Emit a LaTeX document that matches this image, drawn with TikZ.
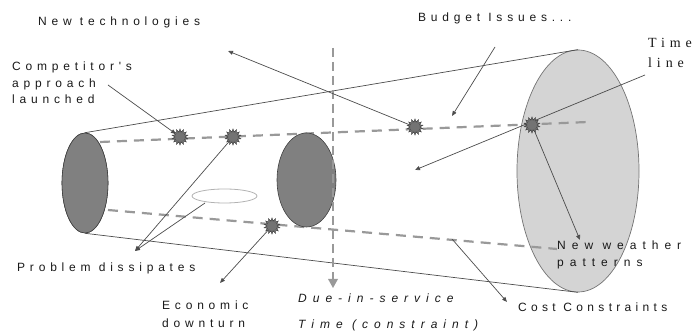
\documentclass[tikz,border=0pt]{standalone}
\usepackage{fontspec}
\setmainfont{Liberation Sans}
\newfontfamily\lsans[LetterSpace=40]{Liberation Sans}
\newfontfamily\lsansnarrow[LetterSpace=36]{Liberation Sans}
\newfontfamily\lsanswide[LetterSpace=50]{Liberation Sans}
\newfontfamily\lserif[LetterSpace=35]{Liberation Serif}
\usetikzlibrary{shapes.geometric,arrows.meta}
\begin{document}
\begin{tikzpicture}[x=1pt,y=-1pt,
  lbl/.style={anchor=base west, inner sep=0, align=left, text=black!90},
  ptr/.style={draw=black!70, line width=0.7pt, -{Triangle[length=5pt,width=4pt]}},
  plain/.style={draw=black!70, line width=0.7pt},
  tline/.style={draw=black!40, line width=2.2pt, dash pattern=on 10pt off 7pt},
  vline/.style={draw=black!40, line width=2.6pt, dash pattern=on 9pt off 5pt},
  burst/.style={star, star points=14, star point ratio=1.6, minimum size=16pt, inner sep=0, fill=black!55, draw=black!75, line width=0.5pt},
  dark/.style={ellipse, fill=black!50, draw=black!75, line width=0.6pt, inner sep=0},
  big/.style={ellipse, fill=black!17, draw=black!55, line width=0.7pt, inner sep=0},
  oval/.style={ellipse, draw=black!30, line width=0.8pt, inner sep=0}
]
\useasboundingbox (0,0) rectangle (697,336);
% right ellipse
\node[big, minimum width=122pt, minimum height=242pt] (re) at (578,171) {};
% cone outline
\node[dark, minimum width=46pt, minimum height=100pt] (le) at (85,183) {};
\draw[plain] (le.north) -- (re.north);
\draw[plain] (le.south) -- (re.south);
% time lines
\coordinate (ta) at (100,142);
\coordinate (tb) at (588,122);
\coordinate (ba) at (108,210);
\coordinate (bb) at (557,249);
\draw[tline] (ta) -- (tb);
\draw[tline] (ba) -- (bb);
% ellipses
\node[dark, minimum width=46pt, minimum height=100pt] (le2) at (85,183) {};
\node[dark, minimum width=59pt, minimum height=94pt] (me) at (306.5,180) {};
\node[oval, minimum width=65pt, minimum height=14pt] (ov) at (224.5,196) {};
% vertical due-in-service line
\coordinate (vtop) at (333,48);
\coordinate (vend) at (333,279);
\coordinate (vtip) at (333,288);
\draw[vline] (vtop) -- (vend);
\fill[black!40] (328,279) -- (338,279) -- (vtip) -- cycle;
% labels (multi-line nodes: position = baseline of last line)
\node[lbl, font=\lsans\fontsize{12}{14}\selectfont] (nt) at (38,26) {New technologies};
\node[lbl, font=\lsans\fontsize{12}{14}\selectfont] (bi) at (418,22) {Budget Issues...};
\node[lbl, font=\lserif\fontsize{14}{20}\selectfont] (tlab) at (648,68) {Time\\line};
\node[lbl, font=\lsans\fontsize{12}{16.5}\selectfont] (comp) at (12,104) {Competitor's\\approach\\launched};
\node[lbl, font=\lsans\fontsize{12}{14}\selectfont] (pd) at (17,272) {Problem dissipates};
\node[lbl, font=\lsans\fontsize{12}{18}\selectfont] (ed) at (162,328) {Economic\\downturn};
\node[lbl, font=\lsanswide\itshape\fontsize{12}{26}\selectfont] (dis) at (298,329) {Due-in-service\\Time (constraint)};
\node[lbl, font=\lsanswide\fontsize{12}{17}\selectfont] (nw) at (557,267) {New weather\\patterns};
\node[lbl, font=\lsansnarrow\fontsize{12}{14}\selectfont] (cc) at (518,312) {Cost Constraints};
% arrow end points
\coordinate (hNT) at (228,51);
\coordinate (cS) at (108,85);
\coordinate (bS) at (495,47);
\coordinate (hB) at (452,116);
\coordinate (tS) at (645,75);
\coordinate (hT) at (415,170);
\coordinate (hNW) at (580,240);
\coordinate (hPD) at (135,251);
\coordinate (ovS) at (205,203);
\coordinate (hED) at (220,283);
\coordinate (cCS) at (452,239);
\coordinate (hCC) at (507,302);
% stars
\coordinate (p1) at (180,137);
\coordinate (p2) at (233,137);
\coordinate (p3) at (415,127);
\coordinate (p4) at (532,125);
\coordinate (p5) at (272,226);
% arrows
\draw[ptr] (p3) -- (hNT);
\draw[ptr] (cS) -- ([shift={(-4,-3)}]p1);
\draw[ptr] (bS) -- (hB);
\draw[ptr] (tS) -- (hT);
\draw[ptr] (p4) -- (hNW);
\draw[ptr] (p2) -- (hPD);
\draw[ptr] (ovS) -- (hPD);
\draw[ptr] (p5) -- (hED);
\draw[ptr] (cCS) -- (hCC);
% bursts
\node[burst] (s1) at (p1) {};
\node[burst] (s2) at (p2) {};
\node[burst] (s3) at (p3) {};
\node[burst] (s4) at (p4) {};
\node[burst] (s5) at (p5) {};
\end{tikzpicture}
\end{document}
